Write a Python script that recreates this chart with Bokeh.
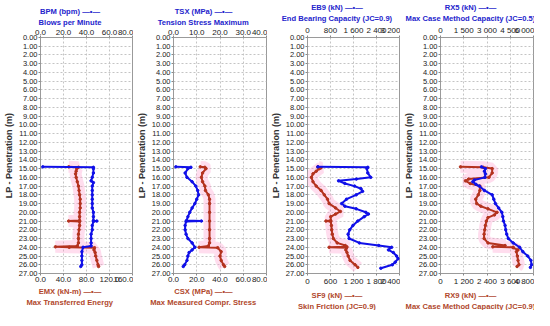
from bokeh.plotting import figure
from bokeh.models import Range1d, LinearAxis, FixedTicker, Title
from bokeh.layouts import row
from bokeh.embed import file_html
from bokeh.resources import INLINE

# ---------------- data ----------------
depth_ticks = list(range(0, 28))

# Panel 1: BPM (top) / EMX (bottom)
bpm_depth = [14.8, 14.85, 15.0, 15.5, 16.0, 16.4, 16.6, 17.0, 17.5, 18.0, 18.5, 19.0, 19.5, 20.0, 20.5, 20.95, 21.0, 21.05, 21.5, 22.0, 22.5, 23.0, 23.5, 23.85, 24.0, 24.5, 25.0, 25.5, 26.0, 26.2]
bpm = [2, 46, 46, 46, 45, 44, 46, 45, 45, 45, 45, 45, 45, 46, 46, 46, 49, 46, 45, 45, 44, 44, 44, 44, 37, 36, 36, 36, 36, 35]
emx_depth = [14.8, 14.85, 15.0, 15.3, 15.6, 16.0, 16.5, 17.0, 17.5, 18.0, 18.5, 19.0, 19.5, 20.0, 20.5, 20.95, 21.0, 21.05, 21.5, 22.0, 22.5, 23.0, 23.5, 23.85, 23.95, 24.0, 24.05, 24.3, 24.6, 25.0, 25.5, 26.0, 26.2]
emx = [49, 66, 63, 62, 61, 62, 64, 66, 67, 68, 69, 69, 69, 68, 68, 68, 49, 68, 68, 67, 66, 66, 66, 64, 26, 50, 94, 93, 95, 96, 98, 100, 101]

# Panel 2: TSX (top) / CSX (bottom)
tsx_depth = [14.8, 14.85, 15.0, 15.5, 16.0, 16.5, 17.0, 17.5, 18.0, 18.5, 19.0, 19.5, 20.0, 20.5, 20.95, 21.0, 21.05, 21.5, 22.0, 22.5, 23.0, 23.5, 24.0, 24.3, 24.6, 25.0, 25.5, 26.0, 26.2]
tsx = [1, 7.5, 6.2, 5.0, 5.8, 8.0, 9.6, 10.4, 10.8, 10.0, 9.2, 8.0, 7.0, 6.2, 5.6, 12.0, 5.4, 5.0, 5.0, 5.4, 6.2, 8.0, 9.2, 8.0, 6.7, 6.2, 5.8, 4.8, 4.2]
csx_depth = [14.8, 14.85, 15.0, 15.5, 16.0, 16.5, 17.0, 17.5, 18.0, 18.5, 19.0, 20.0, 21.0, 22.0, 23.0, 23.5, 23.85, 24.0, 24.05, 24.5, 25.0, 25.5, 26.0, 26.2]
csx = [23, 27, 28, 25, 24, 25, 27, 27.5, 30, 31, 31, 31, 31, 31, 31, 31, 30, 22, 38, 41, 40, 41, 43, 44]

# Panel 3: EB9 (top) / SF9 (bottom)
eb9_depth = [14.8, 14.85, 15.0, 15.5, 16.0, 16.2, 16.4, 16.7, 17.0, 17.3, 17.6, 18.0, 18.5, 19.0, 19.3, 19.6, 20.0, 20.2, 20.5, 21.0, 21.5, 22.0, 22.5, 23.0, 23.5, 23.8, 24.0, 24.3, 24.6, 25.0, 25.3, 25.7, 26.0, 26.4]
eb9 = [360, 2100, 2064, 2098, 2200, 1700, 1080, 1300, 1637, 1860, 1917, 1693, 1356, 1188, 1300, 1693, 2030, 2120, 1974, 1750, 1581, 1469, 1413, 1447, 1806, 2479, 2928, 2816, 2985, 3097, 3153, 3050, 2950, 2550]
sf9_depth = [14.8, 14.9, 15.0, 15.3, 15.6, 16.0, 16.5, 17.0, 17.5, 18.0, 18.5, 19.0, 19.5, 19.9, 20.2, 20.5, 20.95, 21.0, 21.05, 21.5, 22.0, 22.5, 23.0, 23.5, 23.8, 23.95, 24.0, 24.05, 24.3, 24.6, 25.0, 25.5, 26.0, 26.3]
sf9 = [270, 354, 312, 227, 143, 101, 143, 227, 354, 438, 522, 564, 733, 859, 733, 606, 606, 481, 606, 623, 631, 648, 674, 775, 985, 1027, 564, 1020, 1000, 1030, 1060, 1110, 1240, 1314]

# Panel 4: RX5 (top) / RX9 (bottom)
rx5_depth = [14.8, 15.0, 15.3, 15.6, 16.0, 16.3, 16.5, 16.8, 17.0, 17.5, 18.0, 18.5, 19.0, 19.5, 20.0, 20.5, 21.0, 21.5, 22.0, 22.5, 23.0, 23.5, 24.0, 24.5, 25.0, 25.5, 26.0, 26.3]
rx5 = [2646, 2896, 2833, 2896, 2865, 2188, 2083, 2290, 2500, 2833, 3333, 3438, 3542, 3750, 3958, 4020, 4063, 4167, 4208, 4271, 4375, 4688, 5104, 5313, 5625, 5833, 5875, 5800]
rx9_depth = [14.8, 14.85, 15.0, 15.5, 16.0, 16.2, 16.4, 16.7, 17.0, 17.5, 18.0, 18.5, 19.0, 19.3, 19.6, 20.0, 20.3, 20.6, 21.0, 21.5, 22.0, 22.5, 23.0, 23.5, 23.8, 23.95, 24.0, 24.05, 24.3, 24.5, 25.0, 25.5, 26.0, 26.2]
rx9 = [1033, 2200, 2667, 2667, 2500, 1450, 1283, 1533, 2033, 2033, 1950, 1817, 1867, 2083, 2450, 2917, 2783, 2450, 2367, 2317, 2283, 2250, 2250, 2450, 3333, 2700, 3750, 3750, 4000, 3917, 3967, 4000, 4050, 3950]

# axis ticks and labels
bpm_ticks = [0, 20, 40, 60, 80]
bpm_labels = ["0.0", "20.0", "40.0", "60.0", "80.0"]
emx_ticks = [0, 40, 80, 120, 160]
emx_labels = ["0.0", "40.0", "80.0", "120.0", "160.0"]
tsx_ticks = [0, 10, 20, 30, 40]
tsx_labels = ["0.0", "10.0", "20.0", "30.0", "40.0"]
csx_ticks = [0, 20, 40, 60, 80]
csx_labels = ["0.0", "20.0", "40.0", "60.0", "80.0"]
eb9_ticks = [0, 800, 1600, 2400, 3200]
eb9_labels = ["0", "800", "1 600", "2 400", "3 200"]
sf9_ticks = [0, 600, 1200, 1800, 2400]
sf9_labels = ["0", "600", "1 200", "1 800", "2 400"]
rx5_ticks = [0, 1500, 3000, 4500, 6000]
rx5_labels = ["0", "1 500", "3 000", "4 500", "6 000"]
rx9_ticks = [0, 1200, 2400, 3600, 4800]
rx9_labels = ["0", "1 200", "2 400", "3 600", "4 800"]

# ---------------- styling ----------------
FONT = "Liberation Sans"
BLUE = "#1010e8"
RED = "#b4321e"
BLUE_T = "#2424cc"
RED_T = "#b0482c"
PINK = "#ff9fcf"
TITLE_SIZE = 7.6
BORDER_L = 37
BORDER_R = 1

# Arial/Liberation Sans Bold advance widths (per 1000 em) for centring titles
_AW = dict(zip("ABCDEFGHIJKLMNOPQRSTUVWXYZ",
               [722, 722, 722, 722, 667, 611, 778, 722, 278, 556, 722, 611, 833, 722, 778, 667, 778, 722, 667, 611, 722, 667, 944, 667, 667, 611]))
_AW.update(zip("abcdefghijklmnopqrstuvwxyz",
               [556, 611, 556, 611, 556, 333, 611, 611, 278, 278, 556, 278, 889, 611, 611, 611, 611, 389, 556, 333, 611, 556, 778, 556, 556, 500]))
_AW.update({" ": 278, "(": 333, ")": 333, "-": 333, ".": 278, "=": 584, "\u2014": 1000, "\u2022": 350})
for _c in "0123456789":
    _AW[_c] = 556


def text_width(s, size):
    return sum(_AW.get(c, 556) for c in s) * size / 1000.0


def style_axis(ax, ticks, labels):
    ax.ticker = FixedTicker(ticks=ticks)
    ax.major_label_overrides = {t: l for t, l in zip(ticks, labels)}
    ax.major_label_text_font = FONT
    ax.major_label_text_font_size = "8px"
    ax.major_label_text_color = "#222222"
    ax.major_label_standoff = 1
    ax.major_tick_out = 2
    ax.major_tick_in = 0
    ax.minor_tick_out = 0
    ax.minor_tick_in = 0
    ax.major_tick_line_color = "#888888"
    ax.axis_line_color = None


def title(text, color, canvas_w):
    w = text_width(text, TITLE_SIZE)
    off = (canvas_w - w) / 2.0 - BORDER_L
    return Title(text=text, align="left", offset=off, text_font=FONT,
                 text_font_size=f"{TITLE_SIZE}px", text_font_style="bold",
                 text_color=color, standoff=0, text_line_height=1.0)


def make_panel(w, top_t1, top_t2, top_max, top_ticks, top_labels,
               bot_t1, bot_t2, bot_max, bot_ticks, bot_labels,
               bd, bv, rd, rv):
    p = figure(width=w, height=310, x_range=Range1d(0, top_max), y_range=Range1d(27, 0),
               x_axis_location="above", output_backend="svg", toolbar_location=None,
               title=None, min_border_left=BORDER_L, min_border_right=BORDER_R,
               min_border_top=0, min_border_bottom=0)
    p.extra_x_ranges = {"bot": Range1d(0, bot_max)}
    top_ax = p.xaxis[0]
    style_axis(top_ax, top_ticks, top_labels)
    bot_ax = LinearAxis(x_range_name="bot")
    style_axis(bot_ax, bot_ticks, bot_labels)
    p.add_layout(bot_ax, "below")

    yax = p.yaxis[0]
    style_axis(yax, depth_ticks, [f"{d:.2f}" for d in depth_ticks])
    yax.major_label_text_font_size = "7.5px"
    yax.axis_label = "LP - Penetration (m)"
    yax.axis_label_text_font = FONT
    yax.axis_label_text_font_size = "9px"
    yax.axis_label_text_font_style = "bold"
    yax.axis_label_text_color = "#333333"
    yax.axis_label_standoff = 2

    p.xgrid.ticker = FixedTicker(ticks=top_ticks)
    p.ygrid.ticker = FixedTicker(ticks=depth_ticks)
    for g in (p.xgrid[0], p.ygrid[0]):
        g.grid_line_color = "#c4c4c4"
        g.grid_line_dash = "2 2"
        g.grid_line_width = 1
    p.outline_line_color = "#9a9a9a"
    p.outline_line_width = 1

    # pink envelope under the red series
    p.line(rv, rd, x_range_name="bot", line_color=PINK, line_alpha=0.35, line_width=12)
    p.line(rv, rd, x_range_name="bot", line_color=RED, line_width=2)
    p.scatter(rv, rd, x_range_name="bot", size=2.5, color=RED)
    p.line(bv, bd, line_color=BLUE, line_width=2)
    p.scatter(bv, bd, size=2.5, color=BLUE)

    p.add_layout(title(top_t2, BLUE_T, w), "above")
    p.add_layout(title(top_t1, BLUE_T, w), "above")
    p.add_layout(title(bot_t1, RED_T, w), "below")
    p.add_layout(title(bot_t2, RED_T, w), "below")
    return p


p1 = make_panel(133, "BPM (bpm) \u2014\u2022\u2014", "Blows per Minute", 80, bpm_ticks, bpm_labels,
                "EMX (kN-m) \u2014\u2022\u2014", "Max Transferred Energy", 160, emx_ticks, emx_labels,
                bpm_depth, bpm, emx_depth, emx)
p2 = make_panel(134, "TSX (MPa) \u2014\u2022\u2014", "Tension Stress Maximum", 40, tsx_ticks, tsx_labels,
                "CSX (MPa) \u2014\u2022\u2014", "Max Measured Compr. Stress", 80, csx_ticks, csx_labels,
                tsx_depth, tsx, csx_depth, csx)
p3 = make_panel(133, "EB9 (kN) \u2014\u2022\u2014", "End Bearing Capacity (JC=0.9)", 3200, eb9_ticks, eb9_labels,
                "SF9 (kN) \u2014\u2022\u2014", "Skin Friction (JC=0.9)", 2400, sf9_ticks, sf9_labels,
                eb9_depth, eb9, sf9_depth, sf9)
p4 = make_panel(134, "RX5 (kN) \u2014\u2022\u2014", "Max Case Method Capacity (JC=0.5)", 6000, rx5_ticks, rx5_labels,
                "RX9 (kN) \u2014\u2022\u2014", "Max Case Method Capacity (JC=0.9)", 4800, rx9_ticks, rx9_labels,
                rx5_depth, rx5, rx9_depth, rx9)

layout = row(p1, p2, p3, p4, spacing=0)
open("out.html", "w").write(file_html(layout, INLINE))
